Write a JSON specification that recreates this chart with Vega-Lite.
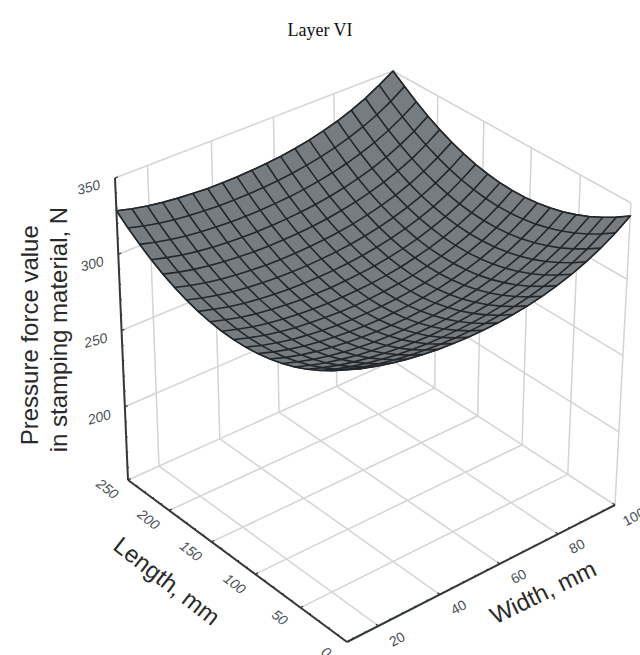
{"$schema":"https://vega.github.io/schema/vega-lite/v6.json","width":640,"height":655,"autosize":"none","padding":0,"background":"white","config":{"view":{"stroke":null}},
"title":{"text":"Layer VI","font":"Liberation Serif","fontSize":18,"fontWeight":"normal","color":"#111","anchor":"middle","offset":-40},
"data":{"values":[
{"w":10,"l":0,"f":323.5},{"w":10,"l":13.16,"f":317.6},{"w":10,"l":26.32,"f":312.4},{"w":10,"l":39.47,"f":307.8},{"w":10,"l":52.63,"f":303.9},{"w":10,"l":65.79,"f":300.8},{"w":10,"l":78.95,"f":298.3},{"w":10,"l":92.11,"f":296.5},{"w":10,"l":105.26,"f":295.4},{"w":10,"l":118.42,"f":295},{"w":10,"l":131.58,"f":295.2},{"w":10,"l":144.74,"f":296.2},{"w":10,"l":157.89,"f":297.8},{"w":10,"l":171.05,"f":300.1},{"w":10,"l":184.21,"f":303.1},{"w":10,"l":197.37,"f":306.8},{"w":10,"l":210.53,"f":311.2},{"w":10,"l":223.68,"f":316.3},{"w":10,"l":236.84,"f":322.1},{"w":10,"l":250,"f":328.5},
{"w":14.74,"l":0,"f":319.9},{"w":14.74,"l":13.16,"f":314.1},{"w":14.74,"l":26.32,"f":308.9},{"w":14.74,"l":39.47,"f":304.4},{"w":14.74,"l":52.63,"f":300.6},{"w":14.74,"l":65.79,"f":297.5},{"w":14.74,"l":78.95,"f":295},{"w":14.74,"l":92.11,"f":293.3},{"w":14.74,"l":105.26,"f":292.2},{"w":14.74,"l":118.42,"f":291.9},{"w":14.74,"l":131.58,"f":292.2},{"w":14.74,"l":144.74,"f":293.2},{"w":14.74,"l":157.89,"f":294.9},{"w":14.74,"l":171.05,"f":297.2},{"w":14.74,"l":184.21,"f":300.3},{"w":14.74,"l":197.37,"f":304},{"w":14.74,"l":210.53,"f":308.5},{"w":14.74,"l":223.68,"f":313.6},{"w":14.74,"l":236.84,"f":319.4},{"w":14.74,"l":250,"f":325.9},
{"w":19.47,"l":0,"f":317},{"w":19.47,"l":13.16,"f":311.2},{"w":19.47,"l":26.32,"f":306},{"w":19.47,"l":39.47,"f":301.6},{"w":19.47,"l":52.63,"f":297.8},{"w":19.47,"l":65.79,"f":294.7},{"w":19.47,"l":78.95,"f":292.3},{"w":19.47,"l":92.11,"f":290.6},{"w":19.47,"l":105.26,"f":289.6},{"w":19.47,"l":118.42,"f":289.3},{"w":19.47,"l":131.58,"f":289.6},{"w":19.47,"l":144.74,"f":290.7},{"w":19.47,"l":157.89,"f":292.4},{"w":19.47,"l":171.05,"f":294.8},{"w":19.47,"l":184.21,"f":297.9},{"w":19.47,"l":197.37,"f":301.7},{"w":19.47,"l":210.53,"f":306.2},{"w":19.47,"l":223.68,"f":311.4},{"w":19.47,"l":236.84,"f":317.2},{"w":19.47,"l":250,"f":323.8},
{"w":24.21,"l":0,"f":314.6},{"w":24.21,"l":13.16,"f":308.8},{"w":24.21,"l":26.32,"f":303.7},{"w":24.21,"l":39.47,"f":299.3},{"w":24.21,"l":52.63,"f":295.6},{"w":24.21,"l":65.79,"f":292.5},{"w":24.21,"l":78.95,"f":290.2},{"w":24.21,"l":92.11,"f":288.5},{"w":24.21,"l":105.26,"f":287.5},{"w":24.21,"l":118.42,"f":287.3},{"w":24.21,"l":131.58,"f":287.7},{"w":24.21,"l":144.74,"f":288.7},{"w":24.21,"l":157.89,"f":290.5},{"w":24.21,"l":171.05,"f":293},{"w":24.21,"l":184.21,"f":296.1},{"w":24.21,"l":197.37,"f":300},{"w":24.21,"l":210.53,"f":304.5},{"w":24.21,"l":223.68,"f":309.7},{"w":24.21,"l":236.84,"f":315.6},{"w":24.21,"l":250,"f":322.2},
{"w":28.95,"l":0,"f":312.7},{"w":28.95,"l":13.16,"f":306.9},{"w":28.95,"l":26.32,"f":301.9},{"w":28.95,"l":39.47,"f":297.5},{"w":28.95,"l":52.63,"f":293.8},{"w":28.95,"l":65.79,"f":290.8},{"w":28.95,"l":78.95,"f":288.5},{"w":28.95,"l":92.11,"f":286.9},{"w":28.95,"l":105.26,"f":286},{"w":28.95,"l":118.42,"f":285.7},{"w":28.95,"l":131.58,"f":286.2},{"w":28.95,"l":144.74,"f":287.3},{"w":28.95,"l":157.89,"f":289.1},{"w":28.95,"l":171.05,"f":291.6},{"w":28.95,"l":184.21,"f":294.8},{"w":28.95,"l":197.37,"f":298.7},{"w":28.95,"l":210.53,"f":303.2},{"w":28.95,"l":223.68,"f":308.5},{"w":28.95,"l":236.84,"f":314.4},{"w":28.95,"l":250,"f":321.1},
{"w":33.68,"l":0,"f":311.2},{"w":33.68,"l":13.16,"f":305.5},{"w":33.68,"l":26.32,"f":300.5},{"w":33.68,"l":39.47,"f":296.1},{"w":33.68,"l":52.63,"f":292.5},{"w":33.68,"l":65.79,"f":289.5},{"w":33.68,"l":78.95,"f":287.3},{"w":33.68,"l":92.11,"f":285.7},{"w":33.68,"l":105.26,"f":284.8},{"w":33.68,"l":118.42,"f":284.6},{"w":33.68,"l":131.58,"f":285.1},{"w":33.68,"l":144.74,"f":286.2},{"w":33.68,"l":157.89,"f":288.1},{"w":33.68,"l":171.05,"f":290.6},{"w":33.68,"l":184.21,"f":293.8},{"w":33.68,"l":197.37,"f":297.8},{"w":33.68,"l":210.53,"f":302.3},{"w":33.68,"l":223.68,"f":307.6},{"w":33.68,"l":236.84,"f":313.6},{"w":33.68,"l":250,"f":320.3},
{"w":38.42,"l":0,"f":310.1},{"w":38.42,"l":13.16,"f":304.4},{"w":38.42,"l":26.32,"f":299.4},{"w":38.42,"l":39.47,"f":295.1},{"w":38.42,"l":52.63,"f":291.5},{"w":38.42,"l":65.79,"f":288.6},{"w":38.42,"l":78.95,"f":286.4},{"w":38.42,"l":92.11,"f":284.8},{"w":38.42,"l":105.26,"f":283.9},{"w":38.42,"l":118.42,"f":283.8},{"w":38.42,"l":131.58,"f":284.3},{"w":38.42,"l":144.74,"f":285.4},{"w":38.42,"l":157.89,"f":287.3},{"w":38.42,"l":171.05,"f":289.9},{"w":38.42,"l":184.21,"f":293.1},{"w":38.42,"l":197.37,"f":297.1},{"w":38.42,"l":210.53,"f":301.7},{"w":38.42,"l":223.68,"f":307},{"w":38.42,"l":236.84,"f":313},{"w":38.42,"l":250,"f":319.7},
{"w":43.16,"l":0,"f":309.5},{"w":43.16,"l":13.16,"f":303.8},{"w":43.16,"l":26.32,"f":298.8},{"w":43.16,"l":39.47,"f":294.6},{"w":43.16,"l":52.63,"f":291},{"w":43.16,"l":65.79,"f":288.1},{"w":43.16,"l":78.95,"f":285.9},{"w":43.16,"l":92.11,"f":284.3},{"w":43.16,"l":105.26,"f":283.5},{"w":43.16,"l":118.42,"f":283.3},{"w":43.16,"l":131.58,"f":283.9},{"w":43.16,"l":144.74,"f":285.1},{"w":43.16,"l":157.89,"f":287},{"w":43.16,"l":171.05,"f":289.6},{"w":43.16,"l":184.21,"f":292.8},{"w":43.16,"l":197.37,"f":296.8},{"w":43.16,"l":210.53,"f":301.5},{"w":43.16,"l":223.68,"f":306.8},{"w":43.16,"l":236.84,"f":312.8},{"w":43.16,"l":250,"f":319.6},
{"w":47.89,"l":0,"f":309.2},{"w":47.89,"l":13.16,"f":303.5},{"w":47.89,"l":26.32,"f":298.6},{"w":47.89,"l":39.47,"f":294.3},{"w":47.89,"l":52.63,"f":290.8},{"w":47.89,"l":65.79,"f":287.9},{"w":47.89,"l":78.95,"f":285.7},{"w":47.89,"l":92.11,"f":284.2},{"w":47.89,"l":105.26,"f":283.4},{"w":47.89,"l":118.42,"f":283.2},{"w":47.89,"l":131.58,"f":283.8},{"w":47.89,"l":144.74,"f":285},{"w":47.89,"l":157.89,"f":287},{"w":47.89,"l":171.05,"f":289.6},{"w":47.89,"l":184.21,"f":292.9},{"w":47.89,"l":197.37,"f":296.9},{"w":47.89,"l":210.53,"f":301.5},{"w":47.89,"l":223.68,"f":306.9},{"w":47.89,"l":236.84,"f":312.9},{"w":47.89,"l":250,"f":319.7},
{"w":52.63,"l":0,"f":309.3},{"w":52.63,"l":13.16,"f":303.7},{"w":52.63,"l":26.32,"f":298.8},{"w":52.63,"l":39.47,"f":294.5},{"w":52.63,"l":52.63,"f":291},{"w":52.63,"l":65.79,"f":288.1},{"w":52.63,"l":78.95,"f":285.9},{"w":52.63,"l":92.11,"f":284.5},{"w":52.63,"l":105.26,"f":283.7},{"w":52.63,"l":118.42,"f":283.5},{"w":52.63,"l":131.58,"f":284.1},{"w":52.63,"l":144.74,"f":285.4},{"w":52.63,"l":157.89,"f":287.3},{"w":52.63,"l":171.05,"f":290},{"w":52.63,"l":184.21,"f":293.3},{"w":52.63,"l":197.37,"f":297.3},{"w":52.63,"l":210.53,"f":302},{"w":52.63,"l":223.68,"f":307.4},{"w":52.63,"l":236.84,"f":313.4},{"w":52.63,"l":250,"f":320.2},
{"w":57.37,"l":0,"f":309.8},{"w":57.37,"l":13.16,"f":304.2},{"w":57.37,"l":26.32,"f":299.3},{"w":57.37,"l":39.47,"f":295.1},{"w":57.37,"l":52.63,"f":291.5},{"w":57.37,"l":65.79,"f":288.7},{"w":57.37,"l":78.95,"f":286.5},{"w":57.37,"l":92.11,"f":285},{"w":57.37,"l":105.26,"f":284.3},{"w":57.37,"l":118.42,"f":284.2},{"w":57.37,"l":131.58,"f":284.7},{"w":57.37,"l":144.74,"f":286},{"w":57.37,"l":157.89,"f":288},{"w":57.37,"l":171.05,"f":290.6},{"w":57.37,"l":184.21,"f":293.9},{"w":57.37,"l":197.37,"f":297.9},{"w":57.37,"l":210.53,"f":302.6},{"w":57.37,"l":223.68,"f":308},{"w":57.37,"l":236.84,"f":314.1},{"w":57.37,"l":250,"f":320.9},
{"w":62.11,"l":0,"f":310.8},{"w":62.11,"l":13.16,"f":305.2},{"w":62.11,"l":26.32,"f":300.3},{"w":62.11,"l":39.47,"f":296.1},{"w":62.11,"l":52.63,"f":292.5},{"w":62.11,"l":65.79,"f":289.7},{"w":62.11,"l":78.95,"f":287.5},{"w":62.11,"l":92.11,"f":286},{"w":62.11,"l":105.26,"f":285.3},{"w":62.11,"l":118.42,"f":285.2},{"w":62.11,"l":131.58,"f":285.7},{"w":62.11,"l":144.74,"f":287},{"w":62.11,"l":157.89,"f":289},{"w":62.11,"l":171.05,"f":291.6},{"w":62.11,"l":184.21,"f":294.9},{"w":62.11,"l":197.37,"f":299},{"w":62.11,"l":210.53,"f":303.7},{"w":62.11,"l":223.68,"f":309.1},{"w":62.11,"l":236.84,"f":315.2},{"w":62.11,"l":250,"f":321.9},
{"w":66.84,"l":0,"f":312.2},{"w":66.84,"l":13.16,"f":306.6},{"w":66.84,"l":26.32,"f":301.7},{"w":66.84,"l":39.47,"f":297.5},{"w":66.84,"l":52.63,"f":294},{"w":66.84,"l":65.79,"f":291.1},{"w":66.84,"l":78.95,"f":289},{"w":66.84,"l":92.11,"f":287.5},{"w":66.84,"l":105.26,"f":286.7},{"w":66.84,"l":118.42,"f":286.6},{"w":66.84,"l":131.58,"f":287.2},{"w":66.84,"l":144.74,"f":288.5},{"w":66.84,"l":157.89,"f":290.5},{"w":66.84,"l":171.05,"f":293.1},{"w":66.84,"l":184.21,"f":296.4},{"w":66.84,"l":197.37,"f":300.5},{"w":66.84,"l":210.53,"f":305.2},{"w":66.84,"l":223.68,"f":310.6},{"w":66.84,"l":236.84,"f":316.7},{"w":66.84,"l":250,"f":323.4},
{"w":71.58,"l":0,"f":314.2},{"w":71.58,"l":13.16,"f":308.6},{"w":71.58,"l":26.32,"f":303.7},{"w":71.58,"l":39.47,"f":299.5},{"w":71.58,"l":52.63,"f":295.9},{"w":71.58,"l":65.79,"f":293.1},{"w":71.58,"l":78.95,"f":290.9},{"w":71.58,"l":92.11,"f":289.5},{"w":71.58,"l":105.26,"f":288.7},{"w":71.58,"l":118.42,"f":288.6},{"w":71.58,"l":131.58,"f":289.2},{"w":71.58,"l":144.74,"f":290.4},{"w":71.58,"l":157.89,"f":292.4},{"w":71.58,"l":171.05,"f":295},{"w":71.58,"l":184.21,"f":298.4},{"w":71.58,"l":197.37,"f":302.4},{"w":71.58,"l":210.53,"f":307.1},{"w":71.58,"l":223.68,"f":312.5},{"w":71.58,"l":236.84,"f":318.6},{"w":71.58,"l":250,"f":325.3},
{"w":76.32,"l":0,"f":316.8},{"w":76.32,"l":13.16,"f":311.2},{"w":76.32,"l":26.32,"f":306.2},{"w":76.32,"l":39.47,"f":302},{"w":76.32,"l":52.63,"f":298.5},{"w":76.32,"l":65.79,"f":295.6},{"w":76.32,"l":78.95,"f":293.4},{"w":76.32,"l":92.11,"f":292},{"w":76.32,"l":105.26,"f":291.2},{"w":76.32,"l":118.42,"f":291.1},{"w":76.32,"l":131.58,"f":291.6},{"w":76.32,"l":144.74,"f":292.9},{"w":76.32,"l":157.89,"f":294.9},{"w":76.32,"l":171.05,"f":297.5},{"w":76.32,"l":184.21,"f":300.8},{"w":76.32,"l":197.37,"f":304.8},{"w":76.32,"l":210.53,"f":309.5},{"w":76.32,"l":223.68,"f":314.9},{"w":76.32,"l":236.84,"f":321},{"w":76.32,"l":250,"f":327.8},
{"w":81.05,"l":0,"f":320},{"w":81.05,"l":13.16,"f":314.4},{"w":81.05,"l":26.32,"f":309.4},{"w":81.05,"l":39.47,"f":305.2},{"w":81.05,"l":52.63,"f":301.6},{"w":81.05,"l":65.79,"f":298.8},{"w":81.05,"l":78.95,"f":296.6},{"w":81.05,"l":92.11,"f":295.1},{"w":81.05,"l":105.26,"f":294.3},{"w":81.05,"l":118.42,"f":294.2},{"w":81.05,"l":131.58,"f":294.7},{"w":81.05,"l":144.74,"f":296},{"w":81.05,"l":157.89,"f":297.9},{"w":81.05,"l":171.05,"f":300.5},{"w":81.05,"l":184.21,"f":303.8},{"w":81.05,"l":197.37,"f":307.8},{"w":81.05,"l":210.53,"f":312.5},{"w":81.05,"l":223.68,"f":317.9},{"w":81.05,"l":236.84,"f":324},{"w":81.05,"l":250,"f":330.7},
{"w":85.79,"l":0,"f":324},{"w":85.79,"l":13.16,"f":318.3},{"w":85.79,"l":26.32,"f":313.4},{"w":85.79,"l":39.47,"f":309.1},{"w":85.79,"l":52.63,"f":305.5},{"w":85.79,"l":65.79,"f":302.6},{"w":85.79,"l":78.95,"f":300.4},{"w":85.79,"l":92.11,"f":298.9},{"w":85.79,"l":105.26,"f":298.1},{"w":85.79,"l":118.42,"f":297.9},{"w":85.79,"l":131.58,"f":298.5},{"w":85.79,"l":144.74,"f":299.7},{"w":85.79,"l":157.89,"f":301.6},{"w":85.79,"l":171.05,"f":304.2},{"w":85.79,"l":184.21,"f":307.5},{"w":85.79,"l":197.37,"f":311.5},{"w":85.79,"l":210.53,"f":316.2},{"w":85.79,"l":223.68,"f":321.5},{"w":85.79,"l":236.84,"f":327.6},{"w":85.79,"l":250,"f":334.3},
{"w":90.53,"l":0,"f":328.8},{"w":90.53,"l":13.16,"f":323.2},{"w":90.53,"l":26.32,"f":318.2},{"w":90.53,"l":39.47,"f":313.9},{"w":90.53,"l":52.63,"f":310.3},{"w":90.53,"l":65.79,"f":307.4},{"w":90.53,"l":78.95,"f":305.2},{"w":90.53,"l":92.11,"f":303.6},{"w":90.53,"l":105.26,"f":302.8},{"w":90.53,"l":118.42,"f":302.6},{"w":90.53,"l":131.58,"f":303.1},{"w":90.53,"l":144.74,"f":304.3},{"w":90.53,"l":157.89,"f":306.2},{"w":90.53,"l":171.05,"f":308.8},{"w":90.53,"l":184.21,"f":312.1},{"w":90.53,"l":197.37,"f":316},{"w":90.53,"l":210.53,"f":320.7},{"w":90.53,"l":223.68,"f":326},{"w":90.53,"l":236.84,"f":332},{"w":90.53,"l":250,"f":338.7},
{"w":95.26,"l":0,"f":334.6},{"w":95.26,"l":13.16,"f":328.9},{"w":95.26,"l":26.32,"f":323.9},{"w":95.26,"l":39.47,"f":319.6},{"w":95.26,"l":52.63,"f":316},{"w":95.26,"l":65.79,"f":313.1},{"w":95.26,"l":78.95,"f":310.8},{"w":95.26,"l":92.11,"f":309.3},{"w":95.26,"l":105.26,"f":308.4},{"w":95.26,"l":118.42,"f":308.2},{"w":95.26,"l":131.58,"f":308.7},{"w":95.26,"l":144.74,"f":309.9},{"w":95.26,"l":157.89,"f":311.8},{"w":95.26,"l":171.05,"f":314.3},{"w":95.26,"l":184.21,"f":317.6},{"w":95.26,"l":197.37,"f":321.5},{"w":95.26,"l":210.53,"f":326.1},{"w":95.26,"l":223.68,"f":331.4},{"w":95.26,"l":236.84,"f":337.4},{"w":95.26,"l":250,"f":344.1},
{"w":100,"l":0,"f":341.5},{"w":100,"l":13.16,"f":335.8},{"w":100,"l":26.32,"f":330.8},{"w":100,"l":39.47,"f":326.4},{"w":100,"l":52.63,"f":322.8},{"w":100,"l":65.79,"f":319.8},{"w":100,"l":78.95,"f":317.6},{"w":100,"l":92.11,"f":316},{"w":100,"l":105.26,"f":315.1},{"w":100,"l":118.42,"f":314.9},{"w":100,"l":131.58,"f":315.3},{"w":100,"l":144.74,"f":316.5},{"w":100,"l":157.89,"f":318.3},{"w":100,"l":171.05,"f":320.9},{"w":100,"l":184.21,"f":324.1},{"w":100,"l":197.37,"f":328},{"w":100,"l":210.53,"f":332.6},{"w":100,"l":223.68,"f":337.9},{"w":100,"l":236.84,"f":343.9},{"w":100,"l":250,"f":350},
{"set":"grid","seg":1,"w":10,"l":50,"f":152},{"set":"grid","seg":1,"w":100,"l":50,"f":152},
{"set":"grid","seg":2,"w":10,"l":100,"f":152},{"set":"grid","seg":2,"w":100,"l":100,"f":152},
{"set":"grid","seg":3,"w":10,"l":150,"f":152},{"set":"grid","seg":3,"w":100,"l":150,"f":152},
{"set":"grid","seg":4,"w":10,"l":200,"f":152},{"set":"grid","seg":4,"w":100,"l":200,"f":152},
{"set":"grid","seg":5,"w":10,"l":250,"f":152},{"set":"grid","seg":5,"w":100,"l":250,"f":152},
{"set":"grid","seg":6,"w":20,"l":0,"f":152},{"set":"grid","seg":6,"w":20,"l":250,"f":152},
{"set":"grid","seg":7,"w":40,"l":0,"f":152},{"set":"grid","seg":7,"w":40,"l":250,"f":152},
{"set":"grid","seg":8,"w":60,"l":0,"f":152},{"set":"grid","seg":8,"w":60,"l":250,"f":152},
{"set":"grid","seg":9,"w":80,"l":0,"f":152},{"set":"grid","seg":9,"w":80,"l":250,"f":152},
{"set":"grid","seg":10,"w":100,"l":0,"f":152},{"set":"grid","seg":10,"w":100,"l":250,"f":152},
{"set":"grid","seg":11,"w":20,"l":250,"f":152},{"set":"grid","seg":11,"w":20,"l":250,"f":350},
{"set":"grid","seg":12,"w":40,"l":250,"f":152},{"set":"grid","seg":12,"w":40,"l":250,"f":350},
{"set":"grid","seg":13,"w":60,"l":250,"f":152},{"set":"grid","seg":13,"w":60,"l":250,"f":350},
{"set":"grid","seg":14,"w":80,"l":250,"f":152},{"set":"grid","seg":14,"w":80,"l":250,"f":350},
{"set":"grid","seg":15,"w":100,"l":250,"f":152},{"set":"grid","seg":15,"w":100,"l":250,"f":350},
{"set":"grid","seg":16,"w":10,"l":250,"f":200},{"set":"grid","seg":16,"w":100,"l":250,"f":200},
{"set":"grid","seg":17,"w":10,"l":250,"f":250},{"set":"grid","seg":17,"w":100,"l":250,"f":250},
{"set":"grid","seg":18,"w":10,"l":250,"f":300},{"set":"grid","seg":18,"w":100,"l":250,"f":300},
{"set":"grid","seg":19,"w":10,"l":250,"f":350},{"set":"grid","seg":19,"w":100,"l":250,"f":350},
{"set":"grid","seg":20,"w":100,"l":0,"f":152},{"set":"grid","seg":20,"w":100,"l":0,"f":350},
{"set":"grid","seg":21,"w":100,"l":50,"f":152},{"set":"grid","seg":21,"w":100,"l":50,"f":350},
{"set":"grid","seg":22,"w":100,"l":100,"f":152},{"set":"grid","seg":22,"w":100,"l":100,"f":350},
{"set":"grid","seg":23,"w":100,"l":150,"f":152},{"set":"grid","seg":23,"w":100,"l":150,"f":350},
{"set":"grid","seg":24,"w":100,"l":200,"f":152},{"set":"grid","seg":24,"w":100,"l":200,"f":350},
{"set":"grid","seg":25,"w":100,"l":0,"f":200},{"set":"grid","seg":25,"w":100,"l":250,"f":200},
{"set":"grid","seg":26,"w":100,"l":0,"f":250},{"set":"grid","seg":26,"w":100,"l":250,"f":250},
{"set":"grid","seg":27,"w":100,"l":0,"f":300},{"set":"grid","seg":27,"w":100,"l":250,"f":300},
{"set":"grid","seg":28,"w":100,"l":0,"f":350},{"set":"grid","seg":28,"w":100,"l":250,"f":350},
{"set":"axis","seg":1,"w":10,"l":250,"f":350},{"set":"axis","seg":1,"w":10,"l":250,"f":152},
{"set":"axis","seg":2,"w":10,"l":250,"f":152},{"set":"axis","seg":2,"w":10,"l":0,"f":152},
{"set":"axis","seg":3,"w":10,"l":0,"f":152},{"set":"axis","seg":3,"w":100,"l":0,"f":152},
{"set":"forceTick","w":10,"l":250,"f":350,"major":true},{"set":"forceTick","w":10,"l":250,"f":340},{"set":"forceTick","w":10,"l":250,"f":330},{"set":"forceTick","w":10,"l":250,"f":320},{"set":"forceTick","w":10,"l":250,"f":310},{"set":"forceTick","w":10,"l":250,"f":300,"major":true},{"set":"forceTick","w":10,"l":250,"f":290},{"set":"forceTick","w":10,"l":250,"f":280},{"set":"forceTick","w":10,"l":250,"f":270},{"set":"forceTick","w":10,"l":250,"f":260},{"set":"forceTick","w":10,"l":250,"f":250,"major":true},{"set":"forceTick","w":10,"l":250,"f":240},{"set":"forceTick","w":10,"l":250,"f":230},{"set":"forceTick","w":10,"l":250,"f":220},{"set":"forceTick","w":10,"l":250,"f":210},{"set":"forceTick","w":10,"l":250,"f":200,"major":true},{"set":"forceTick","w":10,"l":250,"f":190},{"set":"forceTick","w":10,"l":250,"f":180},{"set":"forceTick","w":10,"l":250,"f":170},{"set":"forceTick","w":10,"l":250,"f":160},
{"set":"lengthTick","w":10,"l":250,"f":152,"major":true},{"set":"lengthTick","w":10,"l":240,"f":152},{"set":"lengthTick","w":10,"l":230,"f":152},{"set":"lengthTick","w":10,"l":220,"f":152},{"set":"lengthTick","w":10,"l":210,"f":152},{"set":"lengthTick","w":10,"l":200,"f":152,"major":true},{"set":"lengthTick","w":10,"l":190,"f":152},{"set":"lengthTick","w":10,"l":180,"f":152},{"set":"lengthTick","w":10,"l":170,"f":152},{"set":"lengthTick","w":10,"l":160,"f":152},{"set":"lengthTick","w":10,"l":150,"f":152,"major":true},{"set":"lengthTick","w":10,"l":140,"f":152},{"set":"lengthTick","w":10,"l":130,"f":152},{"set":"lengthTick","w":10,"l":120,"f":152},{"set":"lengthTick","w":10,"l":110,"f":152},{"set":"lengthTick","w":10,"l":100,"f":152,"major":true},{"set":"lengthTick","w":10,"l":90,"f":152},{"set":"lengthTick","w":10,"l":80,"f":152},{"set":"lengthTick","w":10,"l":70,"f":152},{"set":"lengthTick","w":10,"l":60,"f":152},{"set":"lengthTick","w":10,"l":50,"f":152,"major":true},{"set":"lengthTick","w":10,"l":40,"f":152},{"set":"lengthTick","w":10,"l":30,"f":152},{"set":"lengthTick","w":10,"l":20,"f":152},{"set":"lengthTick","w":10,"l":10,"f":152},
{"set":"widthTick","w":12,"l":0,"f":152},{"set":"widthTick","w":16,"l":0,"f":152},{"set":"widthTick","w":20,"l":0,"f":152,"major":true},{"set":"widthTick","w":24,"l":0,"f":152},{"set":"widthTick","w":28,"l":0,"f":152},{"set":"widthTick","w":32,"l":0,"f":152},{"set":"widthTick","w":36,"l":0,"f":152},{"set":"widthTick","w":40,"l":0,"f":152,"major":true},{"set":"widthTick","w":44,"l":0,"f":152},{"set":"widthTick","w":48,"l":0,"f":152},{"set":"widthTick","w":52,"l":0,"f":152},{"set":"widthTick","w":56,"l":0,"f":152},{"set":"widthTick","w":60,"l":0,"f":152,"major":true},{"set":"widthTick","w":64,"l":0,"f":152},{"set":"widthTick","w":68,"l":0,"f":152},{"set":"widthTick","w":72,"l":0,"f":152},{"set":"widthTick","w":76,"l":0,"f":152},{"set":"widthTick","w":80,"l":0,"f":152,"major":true},{"set":"widthTick","w":84,"l":0,"f":152},{"set":"widthTick","w":88,"l":0,"f":152},{"set":"widthTick","w":92,"l":0,"f":152},{"set":"widthTick","w":96,"l":0,"f":152},{"set":"widthTick","w":100,"l":0,"f":152,"major":true},
{"set":"forceLabel","label":"350","w":2,"l":250,"f":350},{"set":"forceLabel","label":"300","w":2,"l":250,"f":300},{"set":"forceLabel","label":"250","w":2,"l":250,"f":250},{"set":"forceLabel","label":"200","w":2,"l":250,"f":200},
{"set":"lengthLabel","label":"250","w":3.3,"l":250,"f":152},{"set":"lengthLabel","label":"200","w":3.3,"l":200,"f":152},{"set":"lengthLabel","label":"150","w":3.3,"l":150,"f":152},{"set":"lengthLabel","label":"100","w":3.3,"l":100,"f":152},{"set":"lengthLabel","label":"50","w":3.3,"l":50,"f":152},{"set":"lengthLabel","label":"0","w":3.3,"l":0,"f":152},
{"set":"widthLabel","label":"20","w":20,"l":-20,"f":152},{"set":"widthLabel","label":"40","w":40,"l":-20,"f":152},{"set":"widthLabel","label":"60","w":60,"l":-20,"f":152},{"set":"widthLabel","label":"80","w":80,"l":-20,"f":152},{"set":"widthLabel","label":"100","w":100,"l":-20,"f":152},
{"set":"lengthTitle","label":"Length, mm","w":-9.1,"l":132.5,"f":152},
{"set":"widthTitle","label":"Width, mm","w":60.2,"l":-44.8,"f":152},
{"set":"forceTitle","label":"Pressure force value","w":-17.4,"l":250,"f":271},
{"set":"forceTitle","label":"in stamping material, N","w":-8.7,"l":250,"f":267}
]},
"transform":[
{"calculate":"(100-datum.w)/90","as":"ta"},
{"calculate":"datum.ta/(datum.ta+(1-datum.ta)*1.06)","as":"a"},
{"calculate":"(250-datum.l)/250","as":"tb"},
{"calculate":"datum.tb/(datum.tb+(1-datum.tb)*1.08)","as":"b"},
{"calculate":"(datum.f-152)/198","as":"t"},
{"calculate":"(1-datum.t)*((1-datum.b)*((1-datum.a)*393+datum.a*128)+datum.b*((1-datum.a)*615+datum.a*347))+datum.t*((1-datum.b)*((1-datum.a)*393+datum.a*115)+datum.b*((1-datum.a)*631+datum.a*345))","as":"sx"},
{"calculate":"(1-datum.t)*((1-datum.b)*((1-datum.a)*361+datum.a*480)+datum.b*((1-datum.a)*505+datum.a*642))+datum.t*((1-datum.b)*((1-datum.a)*71+datum.a*178)+datum.b*((1-datum.a)*203+datum.a*328))","as":"sy"}
],
"encoding":{
"x":{"field":"sx","type":"quantitative","scale":{"domain":[0,640],"range":[0,640],"nice":false,"zero":false},"axis":null},
"y":{"field":"sy","type":"quantitative","scale":{"domain":[0,655],"range":[0,655],"nice":false,"zero":false},"axis":null}
},
"layer":[
{"transform":[{"filter":"datum.set=='grid'"}],"mark":{"type":"line","stroke":"#d4d4d4","strokeWidth":1.5},"encoding":{"detail":{"field":"seg","type":"nominal"}}},
{"transform":[{"filter":"!datum.set&&(datum.w==10||datum.w==100||datum.l==0||datum.l==250)"},{"calculate":"datum.l==0?datum.w:datum.w==100?100+datum.l:datum.l==250?400+(100-datum.w):600+(250-datum.l)","as":"seq"}],"mark":{"type":"line","fill":"#777c80","stroke":"#23272a","strokeWidth":1.2},"encoding":{"order":{"field":"seq","type":"quantitative"}}},
{"transform":[{"filter":"!datum.set"}],"mark":{"type":"line","stroke":"#23272a","strokeWidth":1.6},"encoding":{"detail":{"field":"l","type":"nominal"},"order":{"field":"w","type":"quantitative"}}},
{"transform":[{"filter":"!datum.set"}],"mark":{"type":"line","stroke":"#23272a","strokeWidth":1.6},"encoding":{"detail":{"field":"w","type":"nominal"},"order":{"field":"l","type":"quantitative"}}},
{"transform":[{"filter":"datum.set=='axis'"}],"mark":{"type":"line","stroke":"#33383b","strokeWidth":2},"encoding":{"detail":{"field":"seg","type":"nominal"}}},
{"transform":[{"filter":"datum.set=='forceTick'"}],"mark":{"type":"point","shape":"M0,0L0.93,-0.36","stroke":"#33383b","strokeWidth":1.3,"opacity":1,"filled":false},"encoding":{"size":{"condition":{"test":"datum.major","value":36},"value":9}}},
{"transform":[{"filter":"datum.set=='lengthTick'"}],"mark":{"type":"point","shape":"M0,0L0.89,-0.45","stroke":"#33383b","strokeWidth":1.3,"opacity":1,"filled":false},"encoding":{"size":{"condition":{"test":"datum.major","value":36},"value":9}}},
{"transform":[{"filter":"datum.set=='widthTick'"}],"mark":{"type":"point","shape":"M0,0L-0.8,-0.6","stroke":"#33383b","strokeWidth":1.3,"opacity":1,"filled":false},"encoding":{"size":{"condition":{"test":"datum.major","value":36},"value":9}}},
{"transform":[{"filter":"datum.set=='forceLabel'"}],"mark":{"type":"text","font":"Liberation Sans","fontSize":14,"fontStyle":"italic","color":"#4a4f55","angle":345,"align":"center","baseline":"middle"},"encoding":{"text":{"field":"label"}}},
{"transform":[{"filter":"datum.set=='lengthLabel'"}],"mark":{"type":"text","font":"Liberation Sans","fontSize":14,"fontStyle":"italic","color":"#4a4f55","angle":38,"align":"center","baseline":"middle"},"encoding":{"text":{"field":"label"}}},
{"transform":[{"filter":"datum.set=='widthLabel'"}],"mark":{"type":"text","font":"Liberation Sans","fontSize":14,"color":"#4a4f55","angle":332,"align":"center","baseline":"middle"},"encoding":{"text":{"field":"label"}}},
{"transform":[{"filter":"datum.set=='lengthTitle'"}],"mark":{"type":"text","font":"Liberation Sans","fontSize":24,"color":"#2a2a2a","angle":38,"align":"center","baseline":"middle"},"encoding":{"text":{"field":"label"}}},
{"transform":[{"filter":"datum.set=='widthTitle'"}],"mark":{"type":"text","font":"Liberation Sans","fontSize":24,"color":"#2a2a2a","angle":334,"align":"center","baseline":"middle"},"encoding":{"text":{"field":"label"}}},
{"transform":[{"filter":"datum.set=='forceTitle'"}],"mark":{"type":"text","font":"Liberation Sans","fontSize":24,"color":"#2a2a2a","angle":270,"align":"center","baseline":"middle"},"encoding":{"text":{"field":"label"}}}
]}
